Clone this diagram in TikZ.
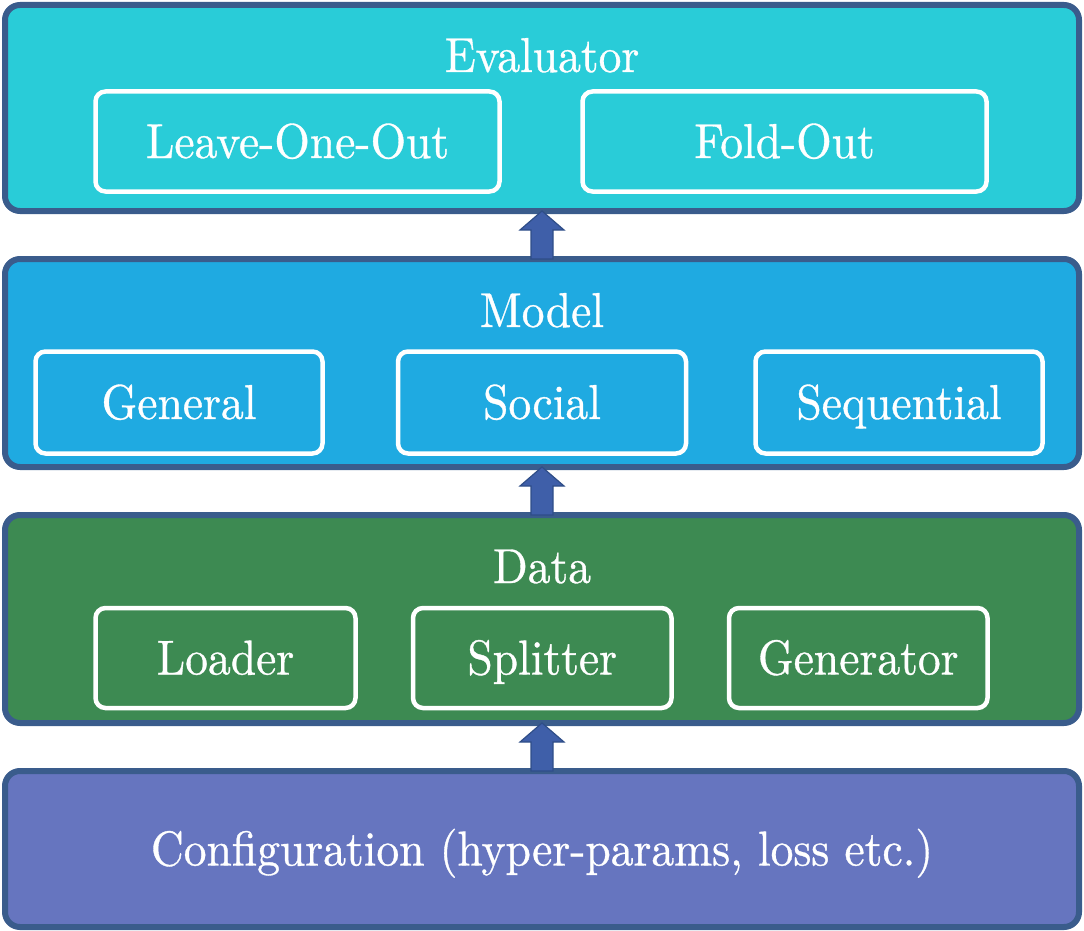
\documentclass[tikz,border=0pt]{standalone}
\usepackage{fontspec}
\newfontfamily\timesfont{lmroman10-regular}[Extension=.otf, FakeBold=0.7, FakeStretch=0.93]
\usetikzlibrary{calc}
\definecolor{evalfill}{HTML}{29CCD8}
\definecolor{modelfill}{HTML}{1FAAE1}
\definecolor{datafill}{HTML}{3D8A52}
\definecolor{conffill}{HTML}{6675BF}
\definecolor{borderc}{HTML}{3A5C8C}
\definecolor{arrowfill}{HTML}{3F5FA9}
\definecolor{arrowline}{HTML}{2F4E88}
\tikzset{
  layerbox/.style={draw=borderc, line width=6pt, rounded corners=15pt, minimum width=1074pt, inner sep=0pt, outer sep=0pt},
  subbox/.style={draw=white, line width=4.5pt, rounded corners=10pt, inner sep=0pt, outer sep=0pt, text=white,
     text height=33pt, text depth=0pt, font=\timesfont\fontsize{49}{58}\selectfont},
  titletext/.style={anchor=base, text=white, inner sep=0pt, font=\timesfont\fontsize{49}{58}\selectfont},
  uparrow/.style={fill=arrowfill, draw=arrowline, line width=1.2pt, line join=miter}
}
\begin{document}
\begin{tikzpicture}[x=1pt, y=-1pt]
\useasboundingbox (0,0) rectangle (1084,931);
% layers
\node[layerbox, fill=evalfill, minimum height=206pt] (eval) at (542,108) {};
\node[layerbox, fill=modelfill, minimum height=208pt] (model) at (542,363) {};
\node[layerbox, fill=datafill, minimum height=208pt] (data) at (542,619) {};
\node[layerbox, fill=conffill, minimum height=156pt, text=white, text height=33pt, text depth=0pt,
      font=\timesfont\fontsize{49}{58}\selectfont] (conf) at (542,849) {Configuration (hyper-params, loss etc.)};
% titles
\node[titletext] (evalt) at (542,72) {Evaluator};
\node[titletext] (modelt) at (542,327) {Model};
\node[titletext] (datat) at (542,583) {Data};
% evaluator sub boxes
\node[subbox, minimum width=404pt, minimum height=100pt] (loo) at (297.5,141.5) {Leave-One-Out};
\node[subbox, minimum width=404pt, minimum height=100pt] (fold) at (784.5,141.5) {Fold-Out};
% model sub boxes
\node[subbox, minimum width=287pt, minimum height=102pt] (gen) at (179,402.5) {General};
\node[subbox, minimum width=288pt, minimum height=102pt] (soc) at (542,402.5) {Social};
\node[subbox, minimum width=287pt, minimum height=102pt] (seq) at (899,402.5) {Sequential};
% data sub boxes
\node[subbox, minimum width=260pt, minimum height=100pt] (load) at (225.5,658) {Loader};
\node[subbox, minimum width=258.5pt, minimum height=100pt] (split) at (542.25,658) {Splitter};
\node[subbox, minimum width=258.5pt, minimum height=100pt] (genr) at (858.25,658) {Generator};
% arrows
\foreach \lo/\hi in {model/eval, data/model, conf/data}{
  \filldraw[uparrow] (\hi.south) -- ++(22,19) -- ++(-11,0) -- ($(\lo.north)+(11,0)$)
     -- ($(\lo.north)+(-11,0)$) -- ($(\hi.south)+(-11,19)$) -- ++(-11,0) -- cycle;
}
\end{tikzpicture}
\end{document}
